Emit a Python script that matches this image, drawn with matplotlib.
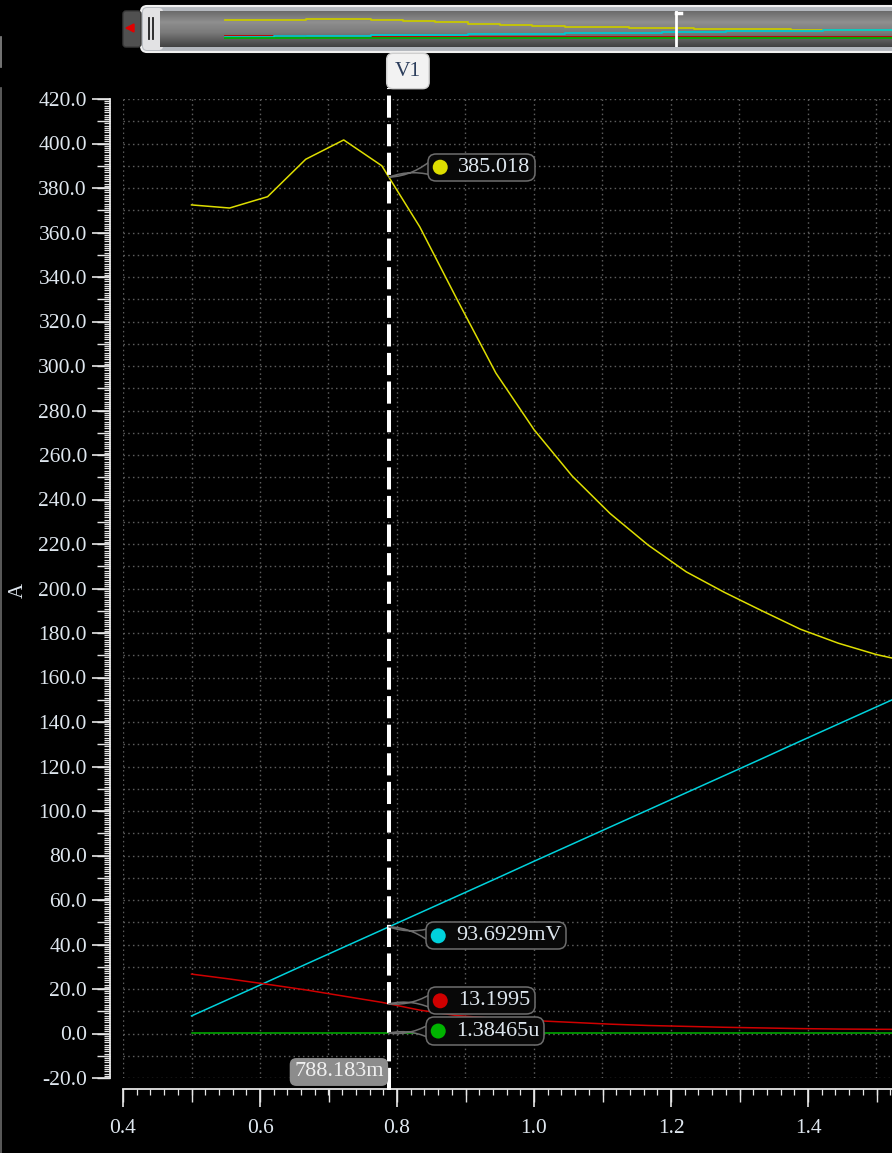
import numpy as np
import matplotlib
matplotlib.use('Agg')
import matplotlib.pyplot as plt
import matplotlib.ticker as mticker
from matplotlib.patches import FancyBboxPatch, Circle
from matplotlib.offsetbox import AnnotationBbox, HPacker, DrawingArea, TextArea

plt.rcParams['font.family'] = ['Liberation Serif', 'DejaVu Serif']
plt.rcParams['axes.unicode_minus'] = False

# sweep points (x) and the four traces
x_vals = [0.5, 0.5556, 0.6111, 0.6667, 0.7222, 0.7778, 0.8333, 0.8889, 0.9444, 1.0,
          1.0556, 1.1111, 1.1667, 1.2222, 1.2778, 1.3333, 1.3889, 1.4444, 1.5, 1.5556,
          1.6111, 1.6667]
yellow = [372.4, 371.0, 376.1, 392.9, 401.6, 390.0, 362.5, 329.2, 296.8, 271.4,
          250.6, 233.7, 219.5, 207.5, 198.3, 189.9, 181.7, 175.4, 170.3, 166.5,
          163.0, 160.0]
cyan = [7.9, 15.6, 23.3, 31.1, 38.8, 46.5, 54.2, 61.9, 69.6, 77.4,
        85.1, 92.8, 100.5, 108.2, 115.9, 123.6, 131.4, 139.1, 146.8, 154.5,
        162.2, 169.9]
red = [26.7, 24.5, 22.1, 19.6, 16.8, 14.0, 10.5, 8.0, 6.8, 5.8,
       5.0, 4.2, 3.6, 3.2, 2.8, 2.5, 2.2, 2.0, 1.9, 1.8,
       1.7, 1.6]
green = [0.2, 0.2, 0.2, 0.2, 0.2, 0.2, 0.2, 0.2, 0.2, 0.2,
         0.2, 0.2, 0.2, 0.2, 0.2, 0.2, 0.2, 0.2, 0.2, 0.2,
         0.2, 0.2]

cursor_x = 0.788183
cursor_name = 'V1'
cursor_label = '788.183m'
marker_texts = ['385.018', '93.6929mV', '13.1995', '1.38465u']
y_label = 'A'

c_yellow = '#dede00'
c_cyan = '#00d2dc'
c_red = '#d00000'
c_green = '#00b400'
tick_col = '#e6e6e6'
lab_col = '#dfe7ef'

W, H = 892, 1153
fig = plt.figure(figsize=(W / 100, H / 100), dpi=100, facecolor='black')

# ---- window chrome, drawn in pixel coordinates
ui = fig.add_axes([0, 0, 1, 1])
ui.set_xlim(0, W)
ui.set_ylim(H, 0)
ui.axis('off')
ui.add_patch(FancyBboxPatch((141, 6), 780, 46, boxstyle='round,pad=0,rounding_size=6',
                            fc='#b4b8be', ec='#f0f0f0', lw=1.5))
ui.add_patch(FancyBboxPatch((143, 8), 20, 42, boxstyle='round,pad=0,rounding_size=4',
                            fc='#e2e2e4', ec='none'))
ui.add_patch(FancyBboxPatch((123, 11), 18, 36, boxstyle='round,pad=0,rounding_size=3',
                            fc='#505050', ec='#3a3a3a', lw=1))
ui.fill([126, 134, 134], [28, 24, 32], color='#e00000')
ui.plot([149, 149], [18, 39], color='#202020', lw=1.3)
ui.plot([152.5, 152.5], [18, 39], color='#202020', lw=1.3)
ui.plot([1, 1], [37, 67], color='#8a8a8a', lw=1.2)
ui.plot([1, 1], [88, H], color='#6a6a6a', lw=1.2)

# ---- overview strip
ov = fig.add_axes([160 / W, 1 - 47 / H, 732 / W, 36 / H])
grad = np.interp(np.linspace(0, 1, 64), [0, 0.3, 0.6, 1], [0.42, 0.56, 0.48, 0.26])
ov.imshow(grad[:, None], cmap='gray', vmin=0, vmax=1, aspect='auto',
          extent=[0, 1, 0, 1], transform=ov.transAxes, origin='upper')
ov.plot(x_vals, yellow, color='#c8c800', lw=1.3, drawstyle='steps-mid')
ov.plot(x_vals, red, color='#c00000', lw=1.3, drawstyle='steps-mid')
ov.plot(x_vals, cyan, color='#00c8d0', lw=1.3, drawstyle='steps-mid')
ov.plot(x_vals, green, color='#00b000', lw=1.3, drawstyle='steps-mid')
ov.plot([0.705, 0.705], [0.0, 1.0], color='white', lw=2, transform=ov.transAxes)
ov.plot([0.705, 0.712], [0.95, 0.95], color='white', lw=2.5, transform=ov.transAxes)
ov.set_xlim(0.388, 1.646)
ov.set_ylim(-206, 576)
ov.axis('off')

# ---- main plot
ax = fig.add_axes([123 / W, 1 - 1078 / H, 769 / W, 979 / H])
ax.set_facecolor('black')

for gx in np.arange(0.4, 1.55, 0.1):
    ax.axvline(gx, color='#5c5c5c', lw=1.0, ls=(0, (1.1, 2.3)), zorder=0)
for gy in np.arange(-20, 421, 10):
    ax.axhline(gy, color='#5c5c5c', lw=1.0, ls=(0, (1.1, 2.3)), zorder=0)

ax.plot(x_vals, yellow, color=c_yellow, lw=1.1)
ax.plot(x_vals, cyan, color=c_cyan, lw=1.1)
ax.plot(x_vals, red, color=c_red, lw=1.1)
ax.plot(x_vals, green, color=c_green, lw=1.1)

ax.set_xlim(0.4, 0.4 + 769 / 685)
ax.set_ylim(-20, 420)

ax.axvline(cursor_x, ymin=-0.0123, ymax=1.0112, color='white', lw=2.9,
           ls=(0, (5.5, 1.6)), clip_on=False, zorder=5)

for s in ['top', 'right']:
    ax.spines[s].set_visible(False)
ax.spines['left'].set_position(('outward', 9.4))
ax.spines['bottom'].set_position(('outward', 7.9))
ax.spines['left'].set_bounds(-20, 420)
for s in ['left', 'bottom']:
    ax.spines[s].set_color(tick_col)
    ax.spines[s].set_linewidth(1.3)

ax.yaxis.set_major_locator(mticker.MultipleLocator(20))
ax.yaxis.set_minor_locator(mticker.MultipleLocator(1))
ax.yaxis.set_major_formatter(mticker.FormatStrFormatter('%.1f'))
ax.xaxis.set_major_locator(mticker.MultipleLocator(0.2))
ax.xaxis.set_minor_locator(mticker.MultipleLocator(0.02))
ax.xaxis.set_major_formatter(mticker.FormatStrFormatter('%.1f'))
ax.tick_params(which='major', length=13, width=1.2, color=tick_col,
               labelcolor=lab_col, labelsize=15.5)
ax.tick_params(axis='y', which='major', pad=3.6)
ax.tick_params(axis='x', which='major', pad=8.6)
ax.tick_params(which='minor', length=4.3, width=0.9, color=tick_col)

# medium ticks every 10 / 0.1
secy = ax.secondary_yaxis(-13 / 769)
secy.yaxis.set_major_locator(mticker.MultipleLocator(10))
secy.yaxis.set_major_formatter(mticker.NullFormatter())
secy.tick_params(length=9.4, width=1.0, color=tick_col)
for s in secy.spines.values():
    s.set_visible(False)
secx = ax.secondary_xaxis(-11 / 979)
secx.xaxis.set_major_locator(mticker.MultipleLocator(0.1))
secx.xaxis.set_major_formatter(mticker.NullFormatter())
secx.tick_params(length=9.4, width=1.0, color=tick_col)
for s in secx.spines.values():
    s.set_visible(False)

fig.text(18 / W, 1 - 590 / H, y_label, rotation=90, ha='center', va='center',
         color=lab_col, fontsize=15)

# cursor flags
ax.annotate(cursor_name, xy=(cursor_x, 1), xycoords=('data', 'axes fraction'),
            xytext=(19, 28), textcoords='offset pixels', ha='center', va='center',
            fontsize=15.5, color='#2c3e5c', annotation_clip=False, zorder=6,
            bbox=dict(boxstyle='round,pad=0.38,rounding_size=0.3', fc='#f2f2f2',
                      ec='#cfcfcf', lw=1))
ax.annotate(cursor_label, xy=(cursor_x, 0), xycoords=('data', 'axes fraction'),
            xytext=(-50, 6), textcoords='offset pixels', ha='center', va='center',
            fontsize=16, color='#f0f0f0', annotation_clip=False, zorder=6,
            bbox=dict(boxstyle='round,pad=0.2,rounding_size=0.3', fc='#8c8c8c',
                      ec='none'))

# value callouts at the cursor
callouts = [(yellow, c_yellow, marker_texts[0], (43, 10)),
            (cyan, c_cyan, marker_texts[1], (41, -9)),
            (red, c_red, marker_texts[2], (43, 3)),
            (green, c_green, marker_texts[3], (41, 2))]
for ys, col, txt, (dx, dy) in callouts:
    yv = np.interp(cursor_x, x_vals, ys)
    da = DrawingArea(12, 12)
    da.add_artist(Circle((6, 6), 5.4, fc=col, ec='none'))
    ta = TextArea(txt, textprops=dict(color='#dde6ee', fontsize=16))
    pack = HPacker(children=[da, ta], align='center', pad=0, sep=7)
    ab = AnnotationBbox(pack, (cursor_x, yv), xybox=(dx, dy), boxcoords='offset pixels',
                        box_alignment=(0, 0.5), pad=0.0, fontsize=15, zorder=7,
                        bboxprops=dict(boxstyle='round,pad=0.2,rounding_size=0.4',
                                       fc='#080808', ec='#6e6e6e', lw=1.1),
                        arrowprops=dict(arrowstyle='wedge,tail_width=0.7,shrink_factor=0.05',
                                        fc='#080808', ec='#6e6e6e', lw=1.1,
                                        relpos=(0.05, 0.5), patchA=None,
                                        shrinkA=0, shrinkB=0))
    ax.add_artist(ab)

fig.savefig('out.png', dpi=100, facecolor='black')
